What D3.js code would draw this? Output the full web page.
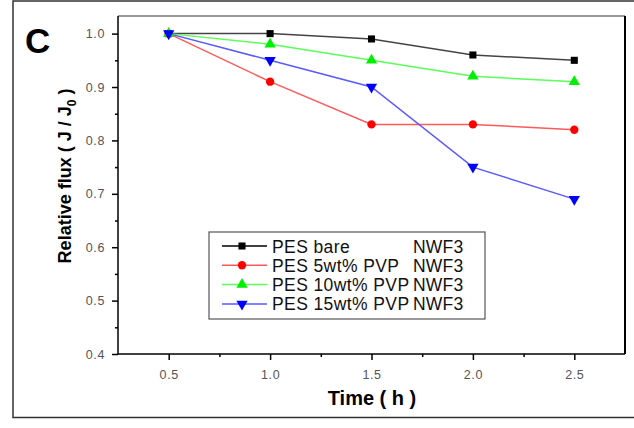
<!DOCTYPE html>
<html>
<head>
<meta charset="utf-8">
<script src="https://cdn.jsdelivr.net/npm/d3@7"></script>
<style>
  body { margin: 0; background: #fff; }
  svg { display: block; font-family: Arial, "Liberation Sans", sans-serif; }
</style>
</head>
<body>
<svg id="chart" width="634" height="428"></svg>
<script>
// DATA
const times = [0.5, 1.0, 1.5, 2.0, 2.5];
const pesBare = [1.0, 1.0, 0.99, 0.96, 0.95];
const pes5 = [1.0, 0.91, 0.83, 0.83, 0.82];
const pes10 = [1.0, 0.98, 0.95, 0.92, 0.91];
const pes15 = [1.0, 0.95, 0.9, 0.75, 0.69];
const seriesNames = ["PES bare", "PES 5wt% PVP", "PES 10wt% PVP", "PES 15wt% PVP"];
const seriesTag = "NWF3";
const xTicks = [0.5, 1.0, 1.5, 2.0, 2.5];
const yTicks = [0.4, 0.5, 0.6, 0.7, 0.8, 0.9, 1.0];

const svg = d3.select("#chart");

// STYLES
const series = [
  { name: seriesNames[0], values: pesBare, line: "#444", fill: "#000", sym: d3.symbolSquare, size: 50 },
  { name: seriesNames[1], values: pes5, line: "#ff5a5a", fill: "#ff0000", sym: d3.symbolCircle, size: 55 },
  { name: seriesNames[2], values: pes10, line: "#5aff5a", fill: "#00ee00", sym: d3.symbolTriangle, size: 55 },
  { name: seriesNames[3], values: pes15, line: "#5a5aff", fill: "#0000ff", sym: d3.symbolTriangle, size: 55, down: true },
];

const pL = 118, pR = 625, pT = 16, pB = 354;

const x = d3.scaleLinear().domain([0.25, 2.75]).range([pL, pR]);
const y = d3.scaleLinear().domain([0.4, 1.033]).range([pB, pT]);

// outer frame
svg.append("rect")
  .attr("x", 13).attr("y", 1)
  .attr("width", 640).attr("height", 416.5)
  .attr("fill", "none").attr("stroke", "#333").attr("stroke-width", 1.5);

// panel letter
svg.append("text")
  .attr("x", 25).attr("y", 53)
  .attr("font-size", 35).attr("font-weight", "bold")
  .text("C");

// minor ticks
svg.append("g")
  .attr("transform", `translate(0,${pB})`)
  .call(d3.axisBottom(x).tickValues([0.75, 1.25, 1.75, 2.25]).tickSize(3).tickFormat(""))
  .call(g => g.select(".domain").remove())
  .selectAll("line").attr("stroke", "#000").attr("stroke-width", 1.5);

const yMinor = yTicks.slice(0, -1).map(d => d + 0.05);
svg.append("g")
  .attr("transform", `translate(${pL},0)`)
  .call(d3.axisLeft(y).tickValues(yMinor).tickSize(3).tickFormat(""))
  .call(g => g.select(".domain").remove())
  .selectAll("line").attr("stroke", "#000").attr("stroke-width", 1.5);

// major axes
const xAxis = svg.append("g")
  .attr("transform", `translate(0,${pB})`)
  .call(d3.axisBottom(x).tickValues(xTicks).tickSize(6).tickPadding(10).tickFormat(d3.format(".1f")));
xAxis.select(".domain").remove();
xAxis.selectAll("line").attr("stroke", "#000").attr("stroke-width", 1.5);
xAxis.selectAll("text").attr("font-size", 12.5).attr("fill", "#555")
  .attr("font-family", "Arial, 'Liberation Sans', sans-serif").attr("letter-spacing", 0.6);

const yAxis = svg.append("g")
  .attr("transform", `translate(${pL},0)`)
  .call(d3.axisLeft(y).tickValues(yTicks).tickSize(6).tickPadding(7).tickFormat(d3.format(".1f")));
yAxis.select(".domain").remove();
yAxis.selectAll("line").attr("stroke", "#000").attr("stroke-width", 1.5);
yAxis.selectAll("text").attr("font-size", 12.5).attr("fill", "#555")
  .attr("font-family", "Arial, 'Liberation Sans', sans-serif").attr("letter-spacing", 0.6);

// frame lines of plot
svg.append("line").attr("x1", pL).attr("x2", pR).attr("y1", pT).attr("y2", pT)
  .attr("stroke", "#777").attr("stroke-width", 1.5);
svg.append("line").attr("x1", pR).attr("x2", pR).attr("y1", pT).attr("y2", pB)
  .attr("stroke", "#000").attr("stroke-width", 2);
svg.append("line").attr("x1", pL).attr("x2", pL).attr("y1", pT).attr("y2", pB)
  .attr("stroke", "#000").attr("stroke-width", 1.5);
svg.append("line").attr("x1", pL).attr("x2", pR).attr("y1", pB).attr("y2", pB)
  .attr("stroke", "#000").attr("stroke-width", 1.5);

// series
const line = d3.line().x(d => x(d[0])).y(d => y(d[1]));
series.forEach(s => {
  const pts = times.map((t, i) => [t, s.values[i]]);
  svg.append("path")
    .datum(pts)
    .attr("d", line)
    .attr("fill", "none")
    .attr("stroke", s.line)
    .attr("stroke-width", 1.5);
});
series.forEach(s => {
  const pts = times.map((t, i) => [t, s.values[i]]);
  svg.append("g").selectAll("path")
    .data(pts)
    .join("path")
    .attr("d", d3.symbol().type(s.sym).size(s.size))
    .attr("transform", d => `translate(${x(d[0])},${y(d[1])})${s.down ? " rotate(180)" : ""}`)
    .attr("fill", s.fill);
});

// legend
const lg = svg.append("g");
lg.append("rect")
  .attr("x", 209).attr("y", 232).attr("width", 276).attr("height", 87)
  .attr("fill", "#fff").attr("stroke", "#555").attr("stroke-width", 1.2);
series.forEach((s, i) => {
  const ly = 246 + i * 19.3;
  lg.append("line").attr("x1", 222).attr("x2", 267).attr("y1", ly).attr("y2", ly)
    .attr("stroke", i === 0 ? "#000" : s.line).attr("stroke-width", 1.5);
  lg.append("path")
    .attr("d", d3.symbol().type(s.sym).size(s.size)())
    .attr("transform", `translate(242,${ly})${s.down ? " rotate(180)" : ""}`)
    .attr("fill", s.fill);
  lg.append("text").attr("x", 272).attr("y", ly + 6.5)
    .attr("font-size", 17.5).attr("letter-spacing", 0.4).attr("fill", "#111").text(s.name);
  lg.append("text").attr("x", 413).attr("y", ly + 6.5)
    .attr("font-size", 17.5).attr("letter-spacing", 0.2).attr("fill", "#111").text(seriesTag);
});

// axis titles
svg.append("text")
  .attr("x", 372).attr("y", 405)
  .attr("text-anchor", "middle")
  .attr("font-size", 20).attr("font-weight", "bold")
  .text("Time ( h )");

const yl = svg.append("text")
  .attr("transform", "translate(71,176) rotate(-90)")
  .attr("text-anchor", "middle")
  .attr("font-size", 18).attr("font-weight", "bold");
yl.append("tspan").text("Relative flux ( J / J");
yl.append("tspan").attr("font-size", 12).attr("dy", 5).text("0");
yl.append("tspan").attr("dy", -5).text(" )");
</script>
</body>
</html>
